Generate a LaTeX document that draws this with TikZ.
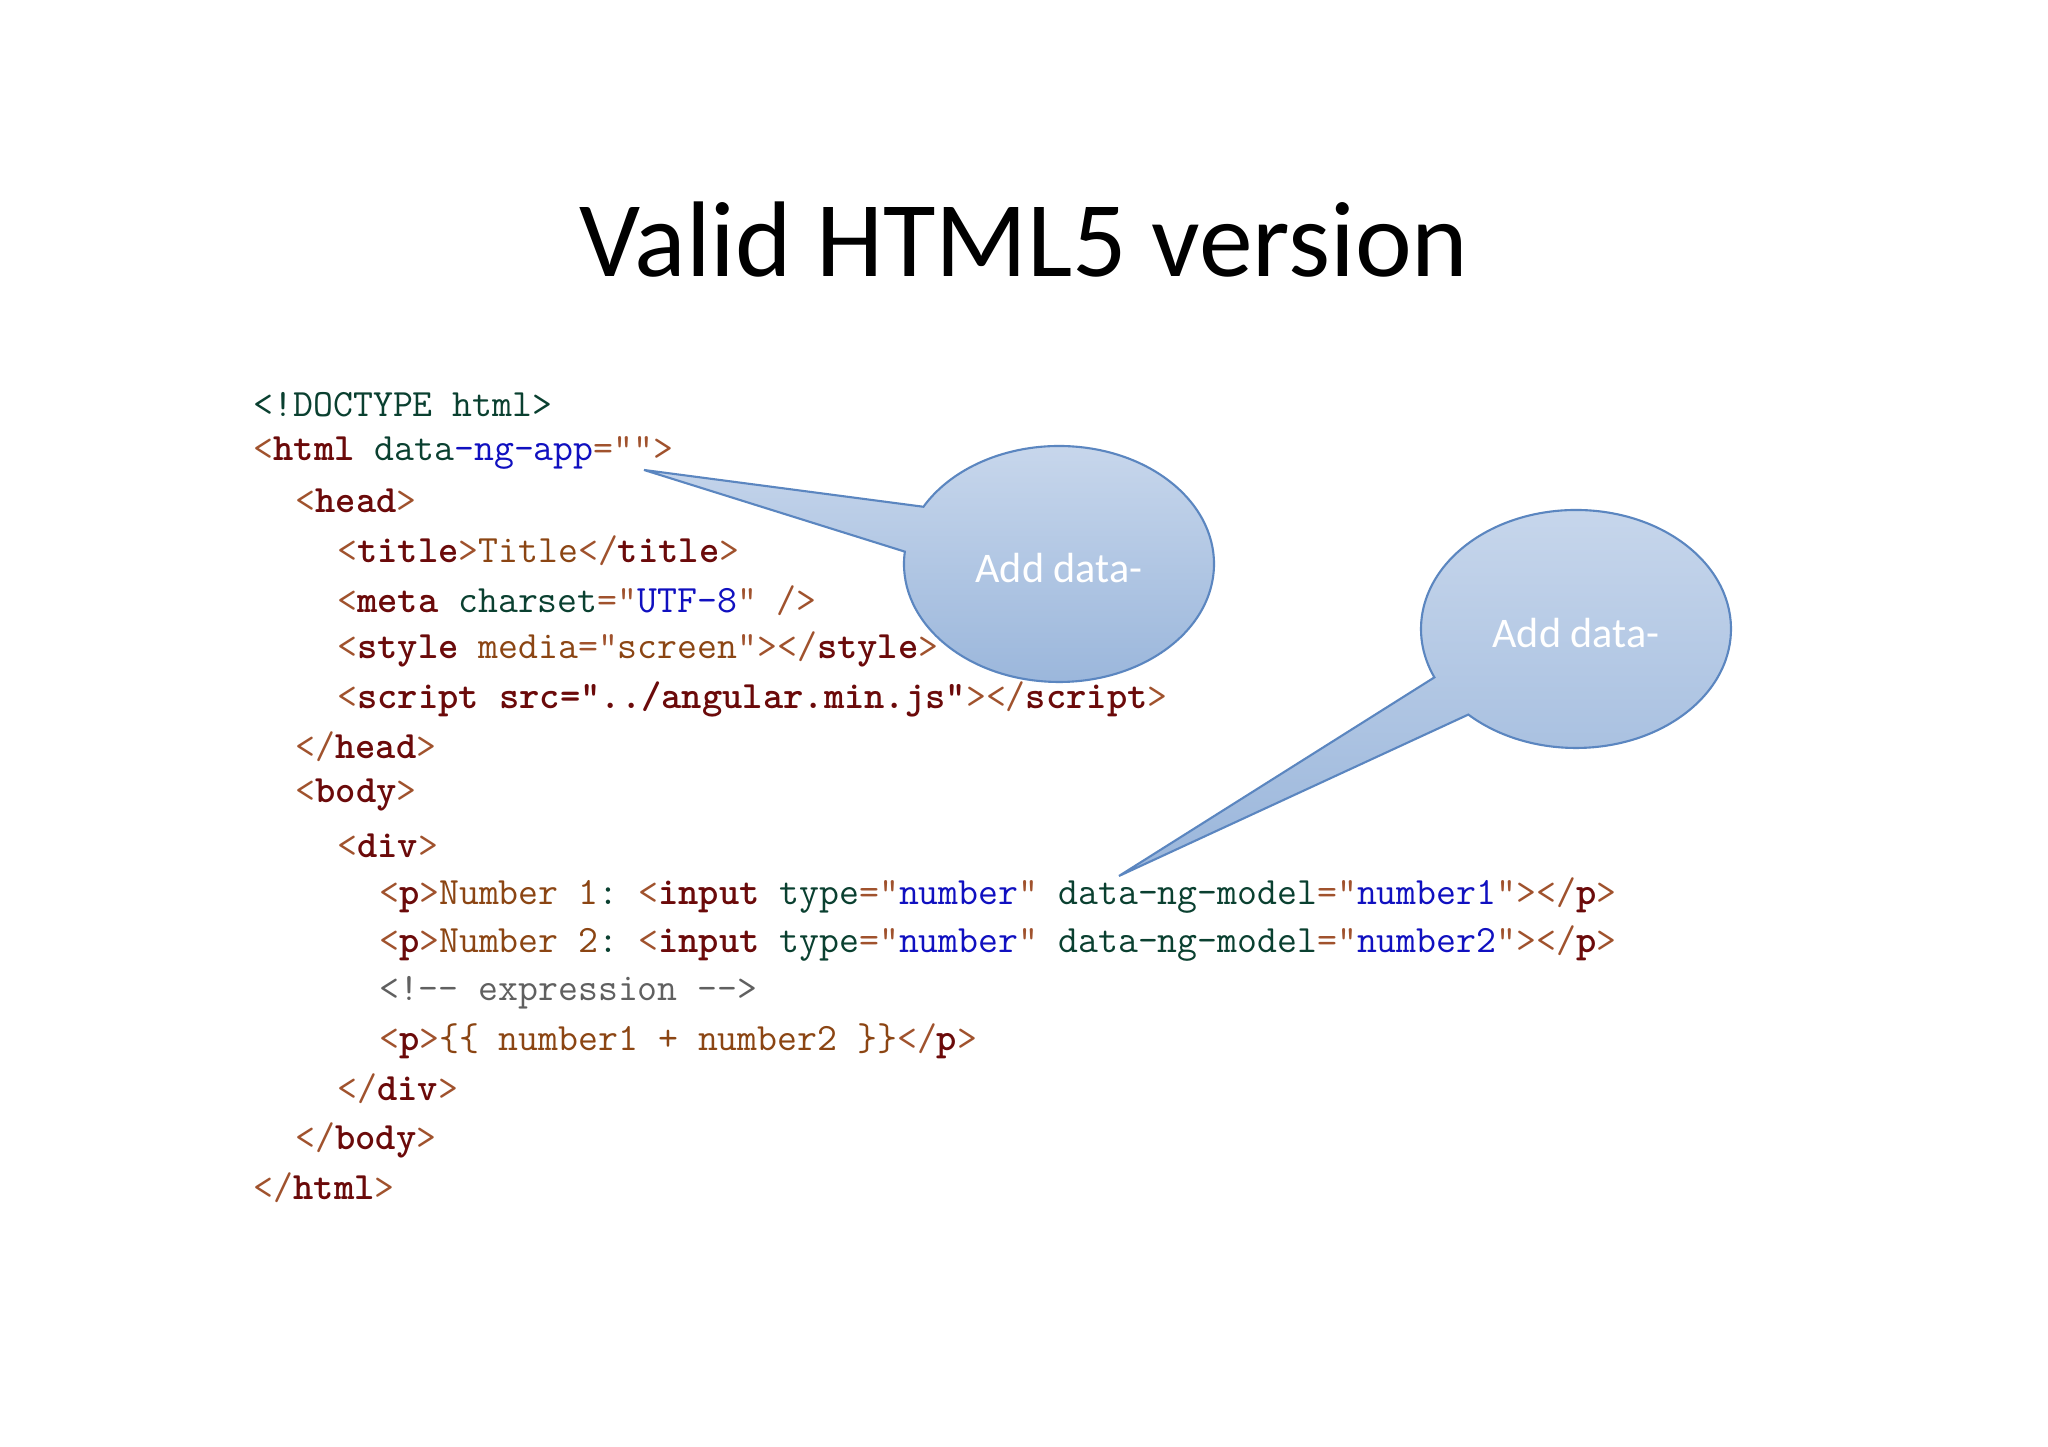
\documentclass[tikz,border=0pt]{standalone}
\usepackage{fontspec}
\setmainfont{Carlito}
\usetikzlibrary{calc}
\definecolor{br}{HTML}{A0522D}
\definecolor{tg}{HTML}{6B0A0A}
\definecolor{at}{HTML}{0A4030}
\definecolor{vl}{HTML}{1010C0}
\definecolor{tx}{HTML}{8B4513}
\definecolor{cm}{HTML}{606060}
\definecolor{cf1}{HTML}{C8D7EC}
\definecolor{cf2}{HTML}{9AB6DB}
\definecolor{cb}{HTML}{5B86C0}
\newcommand\Bk[1]{\textcolor{br}{#1}}
\newcommand\Tg[1]{\textcolor{tg}{\bfseries #1}}
\newcommand\At[1]{\textcolor{at}{#1}}
\newcommand\Vl[1]{\textcolor{vl}{#1}}
\newcommand\Tx[1]{\textcolor{tx}{#1}}
\begin{document}
\frenchspacing
\begin{tikzpicture}[x=1cm,y=1cm,
  code/.style={anchor=west,inner sep=0pt,font=\ttfamily\fontsize{11}{13}\selectfont},
  bubble/.style={draw=cb,line width=0.6pt,top color=cf1,bottom color=cf2},
  btext/.style={text=white,font=\fontsize{12}{14}\selectfont}]
\useasboundingbox[fill=white] (0,0) rectangle (20.48,14.47);
\node (title) at (10.24,12.07) {\fontsize{30.6}{36}\selectfont Valid HTML5 version};
\def\ind{0.418}
\node[code] (l1) at (2.53,10.42) {\At{<!DOCTYPE html>}};
\node[code] (l2) at (2.53,9.94) {\Bk{<}\Tg{html} \At{data}\Vl{-ng-app}\Bk{="">}};
\node[code] (l3) at (2.53+\ind,9.46) {\Bk{<}\Tg{head}\Bk{>}};
\node[code] (l4) at (2.53+2*\ind,8.96) {\Bk{<}\Tg{title}\Bk{>}\Tx{Title}\Bk{</}\Tg{title}\Bk{>}};
\node[code] (l5) at (2.53+2*\ind,8.46) {\Bk{<}\Tg{meta} \At{charset}\Bk{="}\Vl{UTF-8}\Bk{" />}};
\node[code] (l6) at (2.53+2*\ind,7.98) {\Bk{<}\Tg{style} \Tx{media}\Bk{="}\Tx{screen}\Bk{"></}\Tg{style}\Bk{>}};
\node[code] (l7) at (2.53+2*\ind,7.48) {\Bk{<}\Tg{script src="../angular.min.js"}\Bk{></}\Tg{script}\Bk{>}};
\node[code] (l8) at (2.53+\ind,7.00) {\Bk{</}\Tg{head}\Bk{>}};
\node[code] (l9) at (2.53+\ind,6.52) {\Bk{<}\Tg{body}\Bk{>}};
\node[code] (l10) at (2.53+2*\ind,6.01) {\Bk{<}\Tg{div}\Bk{>}};
\node[code] (l11) at (2.53+3*\ind,5.51) {\Bk{<}\Tg{p}\Bk{>}\Tx{Number 1}\At{:} \Bk{<}\Tg{input} \At{type}\Bk{="}\Vl{number}\Bk{"} \At{data-ng-model}\Bk{="}\Vl{number1}\Bk{"></}\Tg{p}\Bk{>}};
\node[code] (l12) at (2.53+3*\ind,5.03) {\Bk{<}\Tg{p}\Bk{>}\Tx{Number 2}\At{:} \Bk{<}\Tg{input} \At{type}\Bk{="}\Vl{number}\Bk{"} \At{data-ng-model}\Bk{="}\Vl{number2}\Bk{"></}\Tg{p}\Bk{>}};
\node[code] (l13) at (2.53+3*\ind,4.54) {\textcolor{cm}{<!-- expression -->}};
\node[code] (l14) at (2.53+3*\ind,4.06) {\Bk{<}\Tg{p}\Bk{>}\Tx{\{\{ number1 + number2 \}\}}\Bk{</}\Tg{p}\Bk{>}};
\node[code] (l15) at (2.53+2*\ind,3.58) {\Bk{</}\Tg{div}\Bk{>}};
\node[code] (l16) at (2.53+\ind,3.07) {\Bk{</}\Tg{body}\Bk{>}};
\node[code] (l17) at (2.53,2.59) {\Bk{</}\Tg{html}\Bk{>}};
% callout 1
\coordinate (c1) at (10.59,8.83);
\coordinate (t1) at (6.44,9.77);
\draw[bubble] ($(c1)+(174:1.55 and 1.18)$) arc[start angle=174,end angle=511,x radius=1.55,y radius=1.18] -- (t1) -- cycle;
\node[btext] (b1) at (10.59,8.79) {Add data-};
% callout 2
\coordinate (c2) at (15.76,8.18);
\coordinate (t2) at (11.19,5.71);
\draw[bubble] ($(c2)+(226:1.55 and 1.19)$) arc[start angle=226,end angle=564,x radius=1.55,y radius=1.19] -- (t2) -- cycle;
\node[btext] (b2) at (15.76,8.14) {Add data-};
\end{tikzpicture}
\end{document}
